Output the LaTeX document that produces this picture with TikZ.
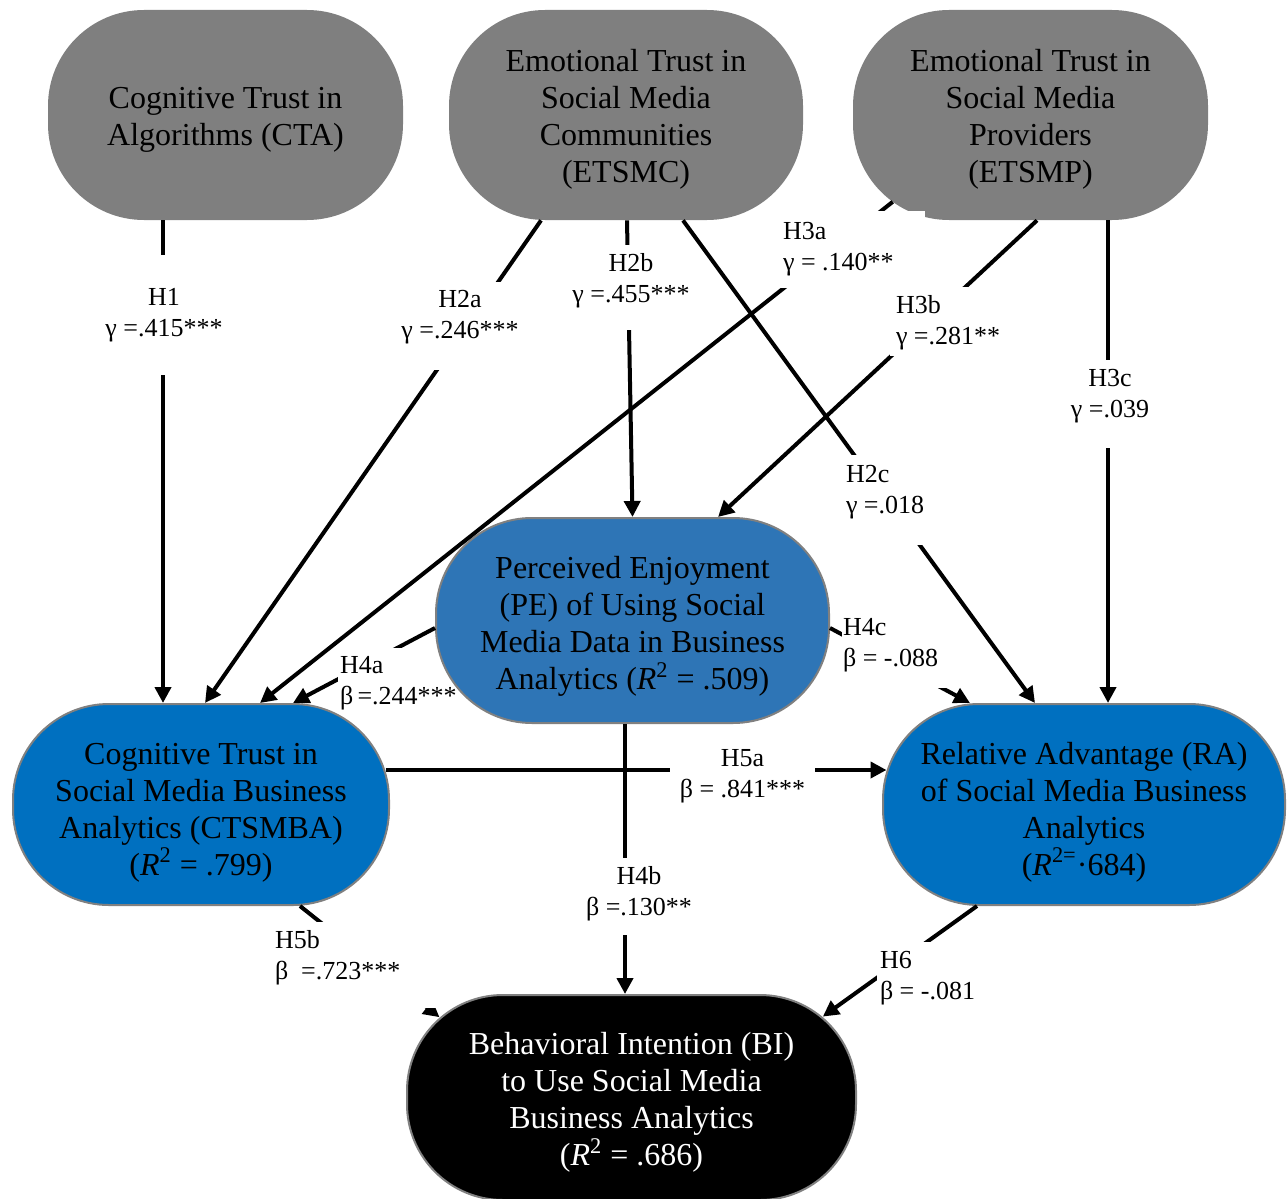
\documentclass[tikz,border=0pt]{standalone}
\usepackage{fontspec}
\setmainfont{Liberation Serif}
\usetikzlibrary{arrows.meta}

\definecolor{trustgray}{HTML}{7F7F7F}
\definecolor{pefill}{HTML}{2E75B6}
\definecolor{outblue}{HTML}{0070C0}
\definecolor{rimgray}{HTML}{808080}

% white label boxes: width, height, top inset, text
\newcommand{\labc}[4]{\begin{minipage}[c][#2][t]{#1}\vspace*{#3}\centering #4\end{minipage}}
% left-aligned variant with an extra left pad
\newcommand{\labl}[5]{\begin{minipage}[c][#2][t]{#1}\vspace*{#3}\raggedright\leftskip=#4\relax #5\end{minipage}}
% invisible strut that lowers a node's text block
\newcommand{\topgap}[1]{\rule{0pt}{#1}}

\begin{document}
\begin{tikzpicture}[x=0.5pt,y=-0.5pt,
  trust/.style={rectangle, rounded corners=48pt, fill=trustgray, draw=none,
    minimum height=105pt, inner sep=0pt, align=center,
    font=\fontsize{16}{18.5}\selectfont},
  outcome/.style={rectangle, rounded corners=48pt, draw=rimgray, line width=1pt,
    inner sep=0pt, align=center, font=\fontsize{16}{18.5}\selectfont},
  link/.style={line width=2pt, -{Triangle[length=8pt,width=8pt]}},
  hyp/.style={fill=white, inner sep=0pt, font=\fontsize{13}{15.5}\selectfont}]

\useasboundingbox (0,0) rectangle (1288,1198);

% constructs
\node[trust, minimum width=177.5pt] (CTA) at (225.5,115)
  {\topgap{15pt}Cognitive Trust in\\Algorithms (CTA)};
\node[trust, minimum width=177pt] (ETSMC) at (626,115)
  {\topgap{15pt}Emotional Trust in\\Social Media\\Communities\\(ETSMC)};
\node[trust, minimum width=177.5pt] (ETSMP) at (1030.5,115)
  {\topgap{15pt}Emotional Trust in\\Social Media\\Providers\\(ETSMP)};
\node[outcome, fill=pefill, minimum width=196.5pt, minimum height=102.5pt] (PE) at (632.5,620.5)
  {\topgap{17pt}Perceived Enjoyment\\(PE) of Using Social\\Media Data in Business\\Analytics (\textit{R}\textsuperscript{2} = .509)};
\node[outcome, fill=outblue, minimum width=188pt, minimum height=100.5pt] (CTSMBA) at (201,804.5)
  {\topgap{18.5pt}Cognitive Trust in\\Social Media Business\\Analytics (CTSMBA)\\(\textit{R}\textsuperscript{2} = .799)};
\node[outcome, fill=outblue, minimum width=201pt, minimum height=100.5pt] (RA) at (1084,804.5)
  {\topgap{18.5pt}Relative Advantage (RA)\\of Social Media Business\\Analytics\\(\textit{R}\textsuperscript{2=}·684)};
\node[outcome, fill=black, text=white, minimum width=224.5pt, minimum height=102.5pt] (BI) at (631.5,1097.5)
  {\topgap{16pt}Behavioral Intention (BI)\\to Use Social Media\\Business Analytics\\(\textit{R}\textsuperscript{2} = .686)};

% hypothesised paths
\draw[link] ([xshift=-31.25pt]CTA.south) -- ([xshift=-19pt]CTSMBA.north);            % H1
\draw[link] ([xshift=-42.5pt]ETSMC.south) -- ([xshift=2pt]CTSMBA.north);             % H2a
\draw[link] ([xshift=0.5pt]ETSMC.south) -- (PE.north);                               % H2b
\draw[link] ([xshift=28.5pt]ETSMC.south) -- ([xshift=-24.5pt]RA.north);              % H2c
\draw[link] ([xshift=-68.9pt,yshift=-43.4pt]ETSMP.center) -- ([xshift=29.5pt]CTSMBA.north); % H3a
\draw[link] ([xshift=3.25pt]ETSMP.south) -- ([xshift=42.75pt]PE.north);              % H3b
\draw[link] ([xshift=38.75pt]ETSMP.south) -- ([xshift=12pt]RA.north);                % H3c
\draw[link] ([yshift=-3.75pt]PE.west) -- ([xshift=46pt]CTSMBA.north);                % H4a
\draw[link] ([xshift=-3.75pt]PE.south) -- ([xshift=-3.25pt]BI.north);                % H4b
\draw[link] ([yshift=-3.75pt]PE.east) -- ([xshift=-57pt]RA.north);                   % H4c
\draw[link] ([xshift=92.25pt,yshift=17.25pt]CTSMBA.center) -- ([xshift=-98.75pt,yshift=17.25pt]RA.center); % H5a
\draw[link] ([xshift=49.5pt]CTSMBA.south) -- ([xshift=16.75pt,yshift=-11.6pt]BI.north west); % H5b
\draw[link] ([xshift=-53.5pt]RA.south) -- ([xshift=-17.1pt,yshift=-11.3pt]BI.north east);    % H6

% path coefficients
\node[hyp] (h1)  at (164,315)    {\labc{70pt}{60pt}{16.5pt}{H1\\γ~=.415***}};
\node[hyp] (h2a) at (460,326)    {\labc{65pt}{44pt}{4pt}{H2a\\γ~=.246***}};
\node[hyp] (h2b) at (631,287.5)  {\labc{65pt}{42.5pt}{4pt}{H2b\\γ~=.455***}};
\node[hyp] (h2c) at (892,500)    {\labl{52pt}{45pt}{5pt}{3pt}{H2c\\γ~=.018}};
\node[hyp] (h3a) at (852.5,249.5){\labl{72.5pt}{38.5pt}{5.5pt}{1.5pt}{H3a\\γ~=~.140**}};
\node[hyp] (h3b) at (955,321.5)  {\labl{65pt}{34.5pt}{4pt}{3pt}{H3b\\γ~=.281**}};
\node[hyp] (h3c) at (1110,404)   {\labc{48pt}{44pt}{4.5pt}{H3c\\γ~=.039}};
\node[hyp] (h4a) at (386,680)    {\labl{48pt}{32pt}{4pt}{1pt}{H4a\\β~=.244***}};
\node[hyp] (h4b) at (639,896.5)  {\labc{59pt}{38.5pt}{4pt}{H4b\\β~=.130**}};
\node[hyp] (h4c) at (901,649)    {\labl{59pt}{39pt}{4pt}{0.5pt}{H4c\\β~=~-.088}};
\node[hyp] (h5a) at (742.5,772.5){\labc{72.5pt}{32.5pt}{4.5pt}{H5a\\β~=~.841***}};
\node[hyp] (h5b) at (356,965)    {\labl{84pt}{43pt}{4pt}{1.5pt}{H5b\\β~~=.723***}};
\node[hyp] (h6)  at (936,975)    {\labl{59pt}{33pt}{4.5pt}{1.5pt}{H6\\β~=~-.081}};

\end{tikzpicture}
\end{document}
